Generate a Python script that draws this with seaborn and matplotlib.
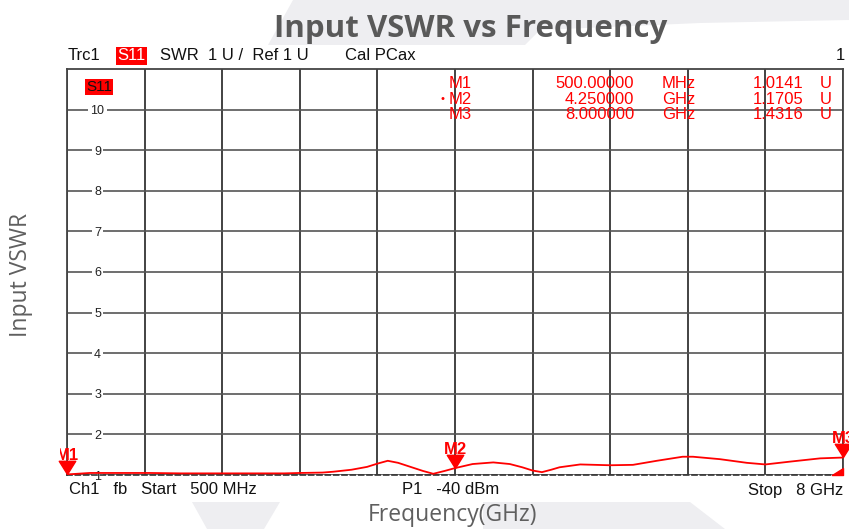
import numpy as np
import matplotlib.pyplot as plt
import seaborn as sns
from matplotlib.path import Path
from matplotlib.patches import Polygon
from matplotlib.transforms import Bbox

# trace
freq_ghz = [0.50, 0.72, 1.00, 1.30, 1.60, 1.90, 2.27, 2.60, 2.75, 2.97, 3.07, 3.25,
            3.40, 3.50, 3.60, 3.70, 3.82, 3.94, 4.04, 4.15, 4.25, 4.42, 4.62, 4.78,
            4.90, 5.00, 5.09, 5.18, 5.26, 5.46, 5.75, 5.97, 6.20, 6.45, 6.55, 6.81,
            7.07, 7.25, 7.49, 7.78, 8.00]
vswr = [1.014, 1.05, 1.05, 1.05, 1.04, 1.04, 1.04, 1.04, 1.05, 1.06, 1.08, 1.13,
        1.20, 1.28, 1.35, 1.30, 1.20, 1.10, 1.03, 1.10, 1.17, 1.27, 1.31, 1.27,
        1.19, 1.11, 1.07, 1.13, 1.19, 1.26, 1.24, 1.25, 1.35, 1.45, 1.45, 1.39,
        1.30, 1.26, 1.33, 1.41, 1.43]

marker_names = ["M1", "M2", "M3"]
marker_freq = [0.5, 4.25, 8.0]
marker_vswr = [1.0141, 1.1705, 1.4316]
marker_freq_text = ["500.00000", "4.250000", "8.000000"]
marker_unit = ["MHz", "GHz", "GHz"]
y_ticks = list(range(1, 11))

W, H = 849, 529
fx = lambda px: px / W
fy = lambda py: 1 - py / H

sns.set_theme(style="white")
plt.rcParams["font.family"] = ["Liberation Sans", "DejaVu Sans"]

fig = plt.figure(figsize=(W / 100, H / 100), dpi=100)

# faint watermark shapes from the slide background
wm = "#eeeef1"
fig.patches.append(Polygon([(fx(293), fy(0)), (fx(849), fy(0)), (fx(849), fy(20)),
                            (fx(700), fy(23)), (fx(540), fy(30)), (fx(525), fy(45)),
                            (fx(268), fy(45))], closed=True, transform=fig.transFigure,
                           facecolor=wm, edgecolor="none", zorder=0))
fig.patches.append(Polygon([(fx(192), fy(502)), (fx(280), fy(502)), (fx(264), fy(529)),
                            (fx(207), fy(529))], closed=True, transform=fig.transFigure,
                           facecolor=wm, edgecolor="none", zorder=0))
fig.patches.append(Polygon([(fx(483), fy(502)), (fx(690), fy(502)), (fx(725), fy(529)),
                            (fx(483), fy(529))], closed=True, transform=fig.transFigure,
                           facecolor=wm, edgecolor="none", zorder=0))

ax = fig.add_axes([fx(67), fy(475), fx(843) - fx(67), fy(69) - fy(475)])
ax.set_facecolor("white")

sns.lineplot(x=freq_ghz, y=vswr, ax=ax, color="#ff0000", linewidth=1.3, zorder=5)

ax.set_xlim(0.5, 8)
ax.set_ylim(1, 11)
ax.set_xticks(np.linspace(0.5, 8, 11))
ax.set_xticklabels([])
ax.set_yticks(y_ticks)
ax.set_yticklabels([str(t) for t in y_ticks])
ax.tick_params(axis="x", length=0)
ax.tick_params(axis="y", length=0, direction="in", pad=-22, labelsize=9, labelcolor="#222222")
for lab in ax.get_yticklabels():
    lab.set_horizontalalignment("center")
    lab.set_bbox(dict(facecolor="white", edgecolor="none", pad=1.5))
    lab.set_zorder(4)
ax.grid(axis="x", color="#222222", linewidth=1.2)
ax.grid(axis="y", color="#555555", linewidth=1.2)
ax.set_axisbelow(True)
for side in ["left", "top", "right"]:
    ax.spines[side].set_color("#444444")
    ax.spines[side].set_linewidth(1.3)
ax.spines["bottom"].set_color("#333333")
ax.spines["bottom"].set_linestyle((0, (3, 2)))
ax.spines["bottom"].set_linewidth(1.2)

# marker triangles with tip on the trace
tri = Path([(-1, 1.6), (1, 1.6), (0, 0), (-1, 1.6)],
           [Path.MOVETO, Path.LINETO, Path.LINETO, Path.CLOSEPOLY])
ax.plot(marker_freq, marker_vswr, linestyle="none", marker=tri, markersize=19,
        color="#ff0000", clip_on=False, zorder=6)
clip = Bbox.from_extents(60, 0, W, H)
for name, f, v in zip(marker_names, marker_freq, marker_vswr):
    t = ax.annotate(name, (f, v), xytext=(0, 8), textcoords="offset points",
                    ha="center", va="bottom", color="#ff0000", fontsize=12,
                    fontweight="bold", annotation_clip=False, zorder=6)
    if name == "M1":
        t.set_clip_box(clip)
        t.set_clip_on(True)

# reference level marker at bottom right
ref = Path([(0, 0), (-1.6, 0), (0, 1), (0, 0)],
           [Path.MOVETO, Path.LINETO, Path.LINETO, Path.CLOSEPOLY])
ax.plot([8.0], [1.0], linestyle="none", marker=ref, markersize=16, color="#ff0000",
        clip_on=False, zorder=6)

# analyzer header line
fs = 12
hy = fy(56)
fig.text(fx(68), hy, "Trc1", fontsize=fs, va="center", color="#111111")
fig.text(fx(117), hy, "S11", fontsize=fs, va="center", color="white",
         bbox=dict(facecolor="#ff0000", edgecolor="none", pad=1))
fig.text(fx(160), hy, "SWR  1 U /  Ref 1 U", fontsize=fs, va="center", color="#111111")
fig.text(fx(345), hy, "Cal PCax", fontsize=fs, va="center", color="#111111")
fig.text(fx(845), hy, "1", fontsize=fs, va="center", ha="right", color="#111111")
fig.text(fx(86), fy(87), "S11", fontsize=11, va="center", color="#111111",
         bbox=dict(facecolor="#ff0000", edgecolor="none", pad=1))

# marker readout table
for i, name in enumerate(marker_names):
    ry = fy(84 + 15 * i)
    fig.text(fx(449), ry, name, fontsize=fs, va="center", color="#ff0000")
    fig.text(fx(634), ry, marker_freq_text[i], fontsize=fs, va="center", ha="right",
             color="#ff0000")
    fig.text(fx(662), ry, marker_unit[i], fontsize=fs, va="center", color="#ff0000")
    fig.text(fx(804), ry, f"{marker_vswr[i]:.4f}", fontsize=fs, va="center", ha="right",
             color="#ff0000")
    fig.text(fx(820), ry, "U", fontsize=fs, va="center", color="#ff0000")
fig.text(fx(442), fy(99), "\u2022", fontsize=8, va="center", ha="center", color="#ff0000")

# analyzer footer line
by = fy(490)
fig.text(fx(69), by, "Ch1   fb   Start   500 MHz", fontsize=fs, va="center", color="#111111")
fig.text(fx(402), by, "P1   -40 dBm", fontsize=fs, va="center", color="#111111")
fig.text(fx(843), by, "Stop   8 GHz", fontsize=fs, va="center", ha="right", color="#111111")

# slide title and axis labels
fig.text(fx(471), fy(29), "Input VSWR vs Frequency", fontsize=22.5, fontweight="bold",
         ha="center", va="center", color="#595959", family=["Open Sans", "DejaVu Sans"])
fig.text(fx(21), fy(275), "Input VSWR", fontsize=16.5, rotation=90, ha="center",
         va="center", color="#5f5f5f", family=["Open Sans", "DejaVu Sans"])
fig.text(fx(453), fy(515), "Frequency(GHz)", fontsize=16.5, ha="center", va="center",
         color="#5f5f5f", family=["Open Sans", "DejaVu Sans"])

fig.savefig("out.png", dpi=100)
